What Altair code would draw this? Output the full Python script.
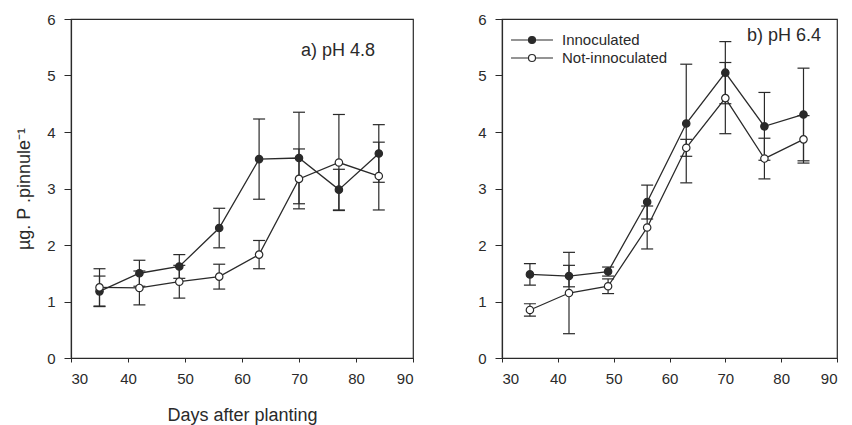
import altair as alt
import pandas as pd

# ---- data ----
days = [35, 42, 49, 56, 63, 70, 77, 84]
series_names = ["Innoculated", "Not-innoculated"]

a_inoc = [1.18, 1.50, 1.62, 2.30, 3.52, 3.54, 2.98, 3.62]
a_inoc_err = [0.27, 0.23, 0.21, 0.35, 0.71, 0.81, 0.36, 0.51]
a_not = [1.25, 1.24, 1.35, 1.44, 1.83, 3.17, 3.46, 3.22]
a_not_err = [0.33, 0.30, 0.29, 0.22, 0.25, 0.53, 0.85, 0.60]

b_inoc = [1.48, 1.45, 1.53, 2.76, 4.15, 5.05, 4.10, 4.31]
b_inoc_err = [0.19, 0.19, 0.08, 0.30, 1.05, 0.55, 0.60, 0.82]
b_not = [0.85, 1.15, 1.27, 2.31, 3.72, 4.60, 3.53, 3.87]
b_not_err = [0.11, 0.72, 0.13, 0.38, 0.15, 0.63, 0.36, 0.42]

x_ticks = [30, 40, 50, 60, 70, 80, 90]
y_ticks = [0, 1, 2, 3, 4, 5, 6]

FONT = "Liberation Sans"
INK = "#2a2a2a"

# line + circle legend glyph (line extends past the unit square)
L = 2.33
R = 0.39
GLYPH = (f"M{-L},0H{-R} M{R},0H{L} "
         f"M{-R},0A{R},{R} 0 1,1 {R},0A{R},{R} 0 1,1 {-R},0Z")


def make_df(inoc, inoc_err, noti, noti_err):
    rows = []
    for name, vals, errs in [(series_names[0], inoc, inoc_err),
                             (series_names[1], noti, noti_err)]:
        for d, v, e in zip(days, vals, errs):
            rows.append({"day": d, "value": v, "lo": v - e, "hi": v + e,
                         "series": name})
    return pd.DataFrame(rows)


def panel(df, label, label_dx, label_y, w, h, xtitle, ytitle, legend):
    xs = alt.Scale(domain=[30, 90], nice=False, zero=False, padding=0)
    ys = alt.Scale(domain=[0, 6], nice=False, padding=0)
    xax = alt.Axis(values=x_ticks, format="d", title=xtitle, grid=False)
    yax = alt.Axis(values=y_ticks, format="d", title=ytitle, grid=False)
    x = alt.X("day:Q", scale=xs, axis=xax)
    y = alt.Y("value:Q", scale=ys, axis=yax)
    base = alt.Chart(df)
    lines = base.mark_line(color=INK, strokeWidth=1.3).encode(
        x=x, y=y, detail="series:N")
    bars = base.mark_rule(color=INK, strokeWidth=1.2).encode(
        x="day:Q", y="lo:Q", y2="hi:Q")
    cap_lo = base.mark_tick(orient="horizontal", size=12, thickness=1.2,
                            color=INK, opacity=1).encode(x="day:Q", y="lo:Q")
    cap_hi = base.mark_tick(orient="horizontal", size=12, thickness=1.2,
                            color=INK, opacity=1).encode(x="day:Q", y="hi:Q")
    fill_kw = dict(scale=alt.Scale(domain=series_names, range=[INK, "white"]))
    fill_kw["legend"] = legend
    pts = base.mark_point(shape="circle", filled=True, size=55, stroke=INK,
                          strokeWidth=1.2, opacity=1).encode(
        x="day:Q", y="value:Q", fill=alt.Fill("series:N", **fill_kw))
    txt = alt.Chart(pd.DataFrame({"t": [label]})).mark_text(
        align="right", baseline="middle", font=FONT, fontSize=18,
        color=INK).encode(text="t:N", x=alt.value(w - label_dx),
                          y=alt.value(label_y))
    return alt.layer(lines, bars, cap_lo, cap_hi, pts, txt).properties(
        width=w, height=h)


leg = alt.Legend(title=None, orient="none", legendX=20, legendY=11,
                 symbolType=GLYPH, symbolSize=324, symbolStrokeColor=INK,
                 symbolStrokeWidth=1.2, labelFont=FONT, labelFontSize=15,
                 labelColor=INK, labelOffset=20, rowPadding=0, padding=0)

left = panel(make_df(a_inoc, a_inoc_err, a_not, a_not_err), "a) pH 4.8",
             38, 32, 342, 339, "Days after planting",
             "µg. P .pinnule⁻¹", None)
right = panel(make_df(b_inoc, b_inoc_err, b_not, b_not_err), "b) pH 6.4",
              16, 17, 335, 339, None, None, leg)

chart = alt.hconcat(left, right, spacing=62).properties(
    padding={"left": 7, "top": 3, "right": 0, "bottom": 0}).resolve_scale(
    fill="independent").resolve_legend(fill="independent").configure_view(
    stroke=INK, strokeWidth=1.2).configure_axis(
    labelFont=FONT, labelFontSize=15, labelColor=INK, titleFont=FONT,
    titleFontSize=18, titleFontWeight="normal", titleColor=INK,
    domainColor=INK, tickColor=INK, domainWidth=1.2).configure_axisY(
    titlePadding=13, tickSize=7, labelPadding=9).configure_axisX(
    titlePadding=20, tickSize=4, labelPadding=9)

chart.save("out.html", embed_options={"renderer": "svg", "actions": False})
